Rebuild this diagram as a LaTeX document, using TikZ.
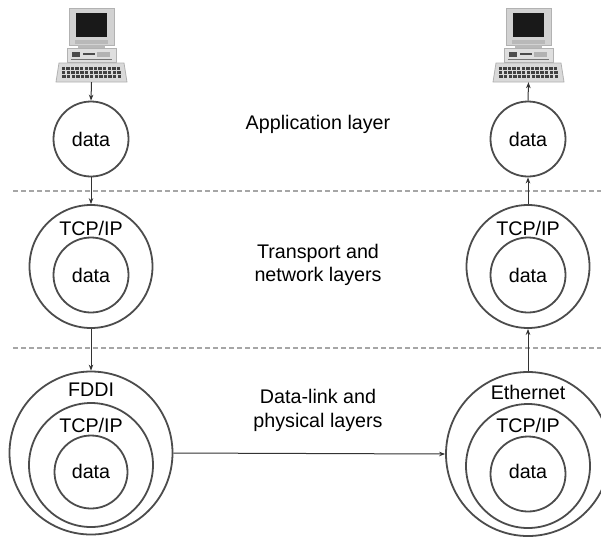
\documentclass[tikz,border=0pt]{standalone}
\usepackage{fontspec}
\setmainfont{Liberation Sans}
\usetikzlibrary{arrows.meta}

\tikzset{
  ring/.style={circle, draw=black!70, line width=1.8pt, inner sep=0pt, minimum size=#1},
  lbl/.style={anchor=base, inner sep=0pt, font=\fontsize{19.7pt}{23.5pt}\selectfont},
  layerline/.style={gray!70, line width=1.5pt, dash pattern=on 5pt off 3pt},
  flow/.style={black!80, line width=1pt, -{Stealth[length=6pt,width=4.5pt]}},
  pcbox/.style={inner sep=0pt, minimum width=72pt, minimum height=74pt},
  computer/.pic={
    % monitor with dark screen
    \filldraw[fill=gray!35, draw=gray!60, line width=0.8pt] (-22,8) rectangle (23,45);
    \fill[black!90] (-15,13) rectangle (16,37);
    \fill[gray!55] (-16,39.5) rectangle (17,43.5);
    \fill[gray!55] (-13,45) rectangle (14,48);
    % system unit
    \filldraw[fill=gray!25, draw=gray!60, line width=0.8pt] (-24,48) rectangle (25,62);
    \fill[black!70] (-19,51.5) rectangle (-11,56.5);
    \fill[black!70] (-8,53) rectangle (4,55);
    \fill[gray!60] (6,51.5) rectangle (19,56.5);
    \fill[black!55] (-20,58.5) rectangle (21,60);
    % keyboard
    \filldraw[fill=gray!30, draw=gray!60, line width=0.8pt]
      (-32,63) -- (33,63) -- (36,82) -- (-35,82) -- cycle;
    \foreach \r in {0,1,2}
      \foreach \k in {0,...,12}
        \fill[black!75] ({-29.5+\k*4.6+\r*0.4},{66.5+\r*4}) rectangle ({-26+\k*4.6+\r*0.4},{69.8+\r*4});
  }
}

\begin{document}
\begin{tikzpicture}[x=1pt,y=-1pt]
  \useasboundingbox (0,0) rectangle (601,536);
  \fill[white] (0,0) rectangle (601,536);
  \clip (0,0) rectangle (601,536);

  % layer separators
  \draw[layerline] (13,191) -- (601,191);
  \draw[layerline] (13,348) -- (601,348);

  % computers
  \pic at (91,0) {computer};
  \pic at (528,0) {computer};
  \node[pcbox] (pcL) at (91.5,45) {};
  \node[pcbox] (pcR) at (528.5,45) {};

  % application layer
  \node[ring=75pt] (dataL) at (91,139) {};
  \node[lbl] at (91,146) {data};
  \node[ring=75pt] (dataR) at (528,139) {};
  \node[lbl] at (528,146) {data};

  % transport and network layers
  \node[ring=123pt] (tcpL) at (91,266.5) {};
  \node[ring=75pt] (tcpLin) at (91,275) {};
  \node[lbl] at (91,235) {TCP/IP};
  \node[lbl] at (91,282) {data};

  \node[ring=123pt] (tcpR) at (528,266.5) {};
  \node[ring=75pt] (tcpRin) at (528,275) {};
  \node[lbl] at (528,235) {TCP/IP};
  \node[lbl] at (528,282) {data};

  % data-link and physical layers
  \node[ring=163pt] (fddi) at (91,453) {};
  \node[ring=124pt] (fddiMid) at (91,465) {};
  \node[ring=73pt] (fddiIn) at (91,472) {};
  \node[lbl] at (91,396) {FDDI};
  \node[lbl] at (91,432) {TCP/IP};
  \node[lbl] at (91,478) {data};

  \node[ring=164pt] (eth) at (528,454) {};
  \node[ring=124pt] (ethMid) at (528,466) {};
  \node[ring=75pt] (ethIn) at (528,474) {};
  \node[lbl] at (528,399) {Ethernet};
  \node[lbl] at (528,432) {TCP/IP};
  \node[lbl] at (528,478) {data};

  % layer names
  \node[lbl] at (318,129) {Application layer};
  \node[lbl] at (318,258) {Transport and};
  \node[lbl] at (318,281) {network layers};
  \node[lbl] at (318,403) {Data-link and};
  \node[lbl] at (318,427) {physical layers};

  % message path
  \draw[flow] (pcL.south) -- (dataL.north);
  \draw[flow] (dataL.south) -- (tcpL.north);
  \draw[flow] (tcpL.south) -- (fddi.north);
  \draw[flow] (fddi.east) -- (eth.west);
  \draw[flow] (eth.north) -- (tcpR.south);
  \draw[flow] (tcpR.north) -- (dataR.south);
  \draw[flow] (dataR.north) -- (pcR.south);
\end{tikzpicture}
\end{document}
